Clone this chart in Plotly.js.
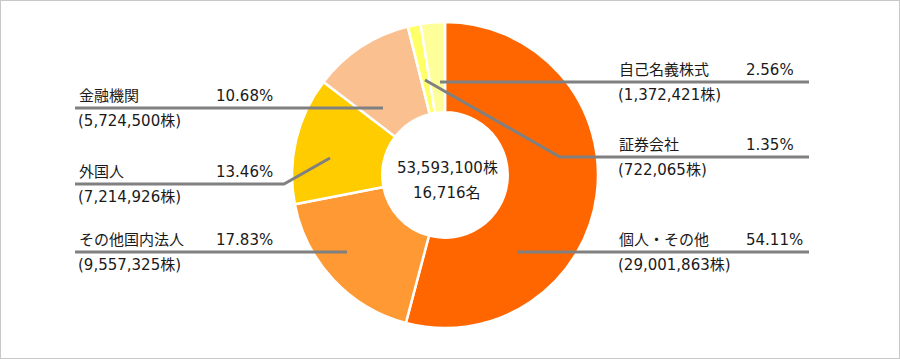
<!DOCTYPE html>
<html>
<head>
<meta charset="utf-8">
<script src="https://cdn.plot.ly/plotly-3.0.1.min.js"></script>
<style>
  html, body { margin: 0; padding: 0; background: #ffffff; }
  #chart { width: 900px; height: 359px; }
</style>
</head>
<body>
<div id="chart"></div>
<script>
// ---- data ----
const categories = ["個人・その他", "その他国内法人", "外国人", "金融機関", "証券会社", "自己名義株式"];
const shares = [29001863, 9557325, 7214926, 5724500, 722065, 1372421];
const percentLabels = ["54.11%", "17.83%", "13.46%", "10.68%", "1.35%", "2.56%"];
const totalShares = "53,593,100株";
const holders = "16,716名";

// ---- styles ----
const sliceColors = ["#FF6600", "#FF9933", "#FFCC00", "#FAC090", "#FFFF66", "#FFFF99"];
const W = 900, H = 359;
const px = x => x / W;
const py = y => 1 - y / H;

// label layout (pixel positions of labels and leader lines)
const labelLayout = {
  "個人・その他":   {nameX: 617, pctX: 744, lineY: 252, pts: [[517, 252], [809, 252]]},
  "その他国内法人": {nameX: 77,  pctX: 214, lineY: 252, pts: [[347, 252], [75, 252]]},
  "外国人":         {nameX: 77,  pctX: 214, lineY: 184, pts: [[330, 158], [284, 184], [75, 184]]},
  "金融機関":       {nameX: 77,  pctX: 214, lineY: 108, pts: [[383, 108], [75, 108]]},
  "証券会社":       {nameX: 617, pctX: 744, lineY: 157, pts: [[425, 80], [560, 157], [809, 157]]},
  "自己名義株式":   {nameX: 617, pctX: 744, lineY: 82,  pts: [[440, 82], [809, 82]]}
};

const fontFam = '"DejaVu Sans", "Noto Sans CJK JP", sans-serif';
const txtColor = "#1a1a1a";
const fs = 15;

const trace = {
  type: "pie",
  labels: categories,
  values: shares,
  sort: false,
  direction: "clockwise",
  rotation: 0,
  hole: 0.41,
  textinfo: "none",
  hoverinfo: "label+percent",
  marker: { colors: sliceColors, line: { color: "#ffffff", width: 2.5 } },
  domain: { x: [px(292), px(598)], y: [py(328), py(22)] },
  showlegend: false
};

const annotations = [];
const shapes = [];
const fmt = n => n.toLocaleString("en-US");

categories.forEach((c, i) => {
  const L = labelLayout[c];
  annotations.push({
    xref: "paper", yref: "paper", x: px(L.nameX), y: py(L.lineY - 12),
    xanchor: "left", yanchor: "middle", showarrow: false, text: c,
    font: { family: fontFam, size: fs, color: txtColor }
  });
  annotations.push({
    xref: "paper", yref: "paper", x: px(L.pctX), y: py(L.lineY - 12),
    xanchor: "left", yanchor: "middle", showarrow: false, text: percentLabels[i],
    font: { family: fontFam, size: fs, color: txtColor }
  });
  annotations.push({
    xref: "paper", yref: "paper", x: px(L.nameX - 1), y: py(L.lineY + 13),
    xanchor: "left", yanchor: "middle", showarrow: false, text: "(" + fmt(shares[i]) + "株)",
    font: { family: fontFam, size: fs, color: txtColor }
  });
  const path = L.pts.map((p, k) => (k === 0 ? "M" : "L") + px(p[0]) + "," + py(p[1])).join(" ");
  shapes.push({
    type: "path", xref: "paper", yref: "paper", path: path,
    line: { color: "#808080", width: 3 }, layer: "above"
  });
});

annotations.push({
  xref: "paper", yref: "paper", x: px(447), y: py(168),
  xanchor: "center", yanchor: "middle", showarrow: false, text: totalShares,
  font: { family: fontFam, size: fs, color: txtColor }
});
annotations.push({
  xref: "paper", yref: "paper", x: px(447), y: py(193),
  xanchor: "center", yanchor: "middle", showarrow: false, text: holders,
  font: { family: fontFam, size: fs, color: txtColor }
});

shapes.push({
  type: "rect", xref: "paper", yref: "paper", x0: 0, x1: 1, y0: 0, y1: 1,
  line: { color: "#c8c8c8", width: 2 }, layer: "above"
});

const layout = {
  width: W, height: H,
  margin: { l: 0, r: 0, t: 0, b: 0 },
  paper_bgcolor: "#ffffff",
  plot_bgcolor: "#ffffff",
  annotations: annotations,
  shapes: shapes,
  font: { family: fontFam, color: txtColor }
};

Plotly.newPlot("chart", [trace], layout, { displayModeBar: false, staticPlot: true });
</script>
</body>
</html>
